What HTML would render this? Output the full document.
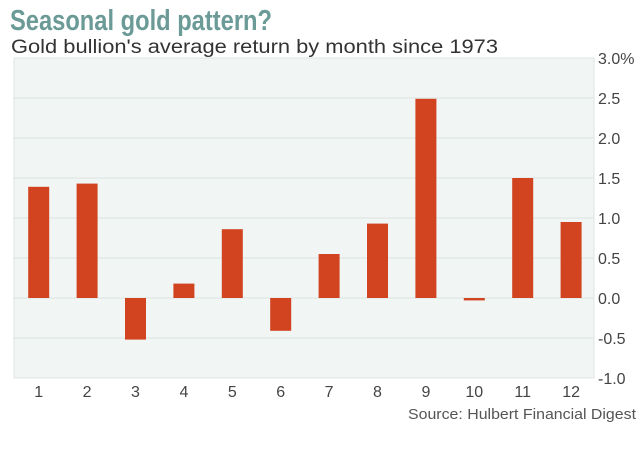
<!DOCTYPE html>
<html><head><meta charset="utf-8"><style>
body{margin:0;background:#fff;width:640px;height:447px;overflow:hidden;font-family:"Liberation Sans",sans-serif}
</style></head><body>
<svg width="640" height="447">
<text x="10" y="30" font-size="29" font-weight="bold" fill="#6b9a97" textLength="262" lengthAdjust="spacingAndGlyphs">Seasonal gold pattern?</text>
<text x="11" y="53" font-size="19" fill="#333" textLength="487" lengthAdjust="spacingAndGlyphs">Gold bullion's average return by month since 1973</text>
<rect x="14" y="58" width="580" height="320" fill="#f1f5f3" stroke="#dde5e2"/>
<g id="grid"></g><g id="bars"></g><g id="ylab"></g><g id="xlab"></g>
<text x="636" y="419" font-size="15" fill="#555" text-anchor="end" textLength="228" lengthAdjust="spacingAndGlyphs">Source: Hulbert Financial Digest</text>
</svg>
<script>
const months=["1","2","3","4","5","6","7","8","9","10","11","12"];
const values=[1.39,1.43,-0.52,0.18,0.86,-0.41,0.55,0.93,2.49,-0.03,1.5,0.95];
const ticks=[3,2.5,2,1.5,1,0.5,0,-0.5,-1];
const tickLabels=["3.0%","2.5","2.0","1.5","1.0","0.5","0.0","-0.5","-1.0"];
const NS="http://www.w3.org/2000/svg";
const y=v=>298-v*80;
const band=48.4,left=14.5;
const x=i=>left+band*(i+0.5);
function mk(t,a,p){const e=document.createElementNS(NS,t);for(const k in a)e.setAttribute(k,a[k]);document.getElementById(p).appendChild(e);return e;}
ticks.forEach((t,i)=>{
 if(t<3&&t>-1){const g=mk('line',{x1:14,x2:594,y1:y(t),y2:y(t),stroke:'#dbe3e0','stroke-width':1},'grid');
 
 }
 const l=mk('text',{x:598,y:y(t)+6,'font-size':16,fill:'#444'},'ylab');l.textContent=tickLabels[i];
 
 
});
values.forEach((v,i)=>{
 const h=Math.max(Math.abs(v*80),1.5);
 const r=mk('rect',{x:x(i)-10.5,y:v>=0?y(v):y(0),width:21,height:h,fill:'#d2431f'},'bars');
 
 
 const t=mk('text',{x:x(i),y:397,'font-size':16,fill:'#444','text-anchor':'middle'},'xlab');t.textContent=months[i];
 
 
});
</script>
</body></html>
